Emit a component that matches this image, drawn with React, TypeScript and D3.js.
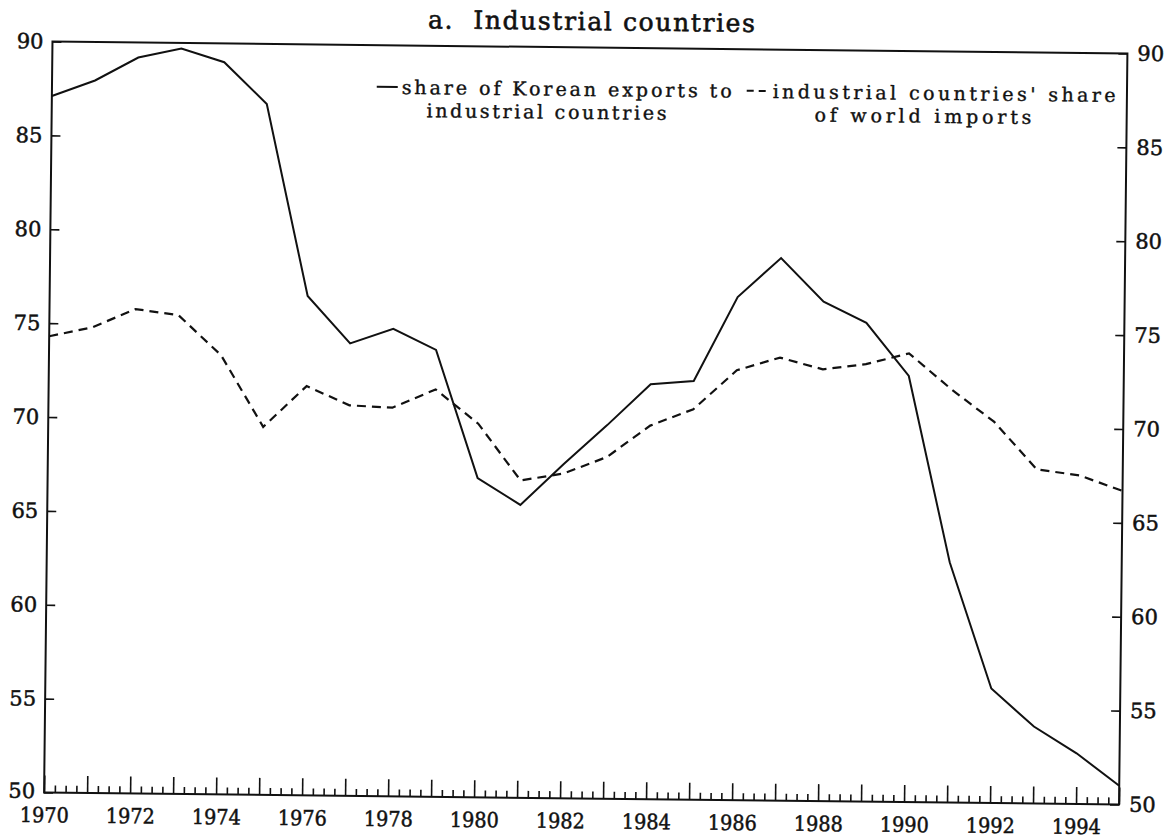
import React, { useEffect, useRef } from 'react';
import * as d3 from 'd3';

const years = [1970, 1971, 1972, 1973, 1974, 1975, 1976, 1977, 1978, 1979, 1980, 1981, 1982,
    1983, 1984, 1985, 1986, 1987, 1988, 1989, 1990, 1991, 1992, 1993, 1994, 1995];

// share of Korean exports to industrial countries (solid)
const koreanShare = [87.1, 87.95, 89.2, 89.7, 89.0, 86.8, 76.6, 74.1, 74.9, 73.8, 67.0, 65.6, 67.8,
    69.9, 72.1, 72.3, 76.8, 78.9, 76.6, 75.5, 72.7, 62.8, 56.1, 54.1, 52.7, 51.0];

// industrial countries' share of world imports (dashed)
const worldShare = [74.3, 74.8, 75.8, 75.5, 73.4, 69.6, 71.8, 70.8, 70.7, 71.7, 69.9, 66.9, 67.3,
    68.2, 69.9, 70.8, 72.9, 73.6, 73.0, 73.3, 73.9, 72.0, 70.3, 67.8, 67.5, 66.7];

const yTicks = [50, 55, 60, 65, 70, 75, 80, 85, 90];
const labelYears = [1970, 1972, 1974, 1976, 1978, 1980, 1982, 1984, 1986, 1988, 1990, 1992, 1994];

const title = 'a.\u00a0\u00a0Industrial countries';
const legendSolid = ['share of Korean exports to', 'industrial countries'];
const legendDashed = ["industrial countries' share", 'of world imports'];

const FONT = '"DejaVu Serif", "Liberation Serif", serif';
const INK = '#111';

const App = () => {
    const ref = useRef<SVGSVGElement>(null);

    useEffect(() => {
        const svg = d3.select(ref.current);
        svg.selectAll('*').remove();

        const width = 1171;
        const height = 838;
        const margin = { top: 47.5, right: 47.75, bottom: 39.5, left: 48.25 };

        // the scan is tilted a little, so the whole chart is turned by the same amount
        const g = svg.append('g').attr('transform', 'rotate(0.64 585.75 423)');

        const x = d3.scaleLinear()
            .domain([1970, 1995])
            .range([margin.left, width - margin.right]);

        const y = d3.scaleLinear()
            .domain([50, 90])
            .range([height - margin.bottom, margin.top]);

        const x0 = x.range()[0], x1 = x.range()[1];
        const y0 = y.range()[0], y1 = y.range()[1];

        const quarters: number[] = [];
        years.slice(0, -1).forEach(yr => { quarters.push(yr + 0.25, yr + 0.5, yr + 0.75); });

        const inkText = (s: any) => s.selectAll('text')
            .attr('fill', INK).attr('stroke', INK).attr('stroke-width', 0.5);

        // minor (quarterly) ticks
        g.append('g')
            .attr('transform', `translate(0,${y0})`)
            .call(d3.axisBottom(x).tickValues(quarters).tickSize(-7).tickFormat(() => ''))
            .call(s => s.select('.domain').remove())
            .selectAll('line').attr('stroke', INK).attr('stroke-width', 1.6);

        // year ticks with labels every second year
        g.append('g')
            .attr('transform', `translate(0,${y0})`)
            .call(d3.axisBottom(x).tickValues(years).tickSize(-17).tickPadding(15)
                .tickFormat(d => labelYears.includes(+d) ? String(d) : ''))
            .call(s => s.select('.domain').remove())
            .call(s => s.selectAll('line').attr('stroke', INK).attr('stroke-width', 1.6))
            .call(inkText)
            .call(s => s.selectAll('text').filter((d: any) => labelYears.includes(+d))
                .attr('textLength', 49).attr('lengthAdjust', 'spacingAndGlyphs'))
            .attr('font-family', FONT)
            .attr('font-size', 21);

        g.append('g')
            .attr('transform', `translate(${x0},0)`)
            .call(d3.axisLeft(y).tickValues(yTicks).tickSize(-9).tickPadding(9))
            .call(s => s.select('.domain').remove())
            .call(s => s.selectAll('line').attr('stroke', INK).attr('stroke-width', 1.6))
            .call(inkText)
            .call(s => s.selectAll('text').filter((d: any) => d === 50).attr('dy', '0.25em'))
            .attr('font-family', FONT)
            .attr('font-size', 21);

        g.append('g')
            .attr('transform', `translate(${x1},0)`)
            .call(d3.axisRight(y).tickValues(yTicks).tickSize(-9).tickPadding(10))
            .call(s => s.select('.domain').remove())
            .call(s => s.selectAll('line').attr('stroke', INK).attr('stroke-width', 1.6))
            .call(inkText)
            .attr('font-family', FONT)
            .attr('font-size', 21);

        // frame
        g.append('rect')
            .attr('x', x0).attr('y', y1)
            .attr('width', x1 - x0).attr('height', y0 - y1)
            .attr('fill', 'none')
            .attr('stroke', INK)
            .attr('stroke-width', 2);

        const line = d3.line<number>()
            .x((d, i) => x(years[i]))
            .y(d => y(d));

        g.append('path')
            .datum(koreanShare)
            .attr('d', line)
            .attr('fill', 'none')
            .attr('stroke', INK)
            .attr('stroke-width', 2);

        g.append('path')
            .datum(worldShare)
            .attr('d', line)
            .attr('fill', 'none')
            .attr('stroke', INK)
            .attr('stroke-width', 2.2)
            .attr('stroke-dasharray', '9,6');

        g.append('text')
            .attr('x', 587).attr('y', 30)
            .attr('text-anchor', 'middle')
            .attr('font-family', FONT)
            .attr('font-size', 25)
            .attr('fill', INK)
            .attr('stroke', INK)
            .attr('stroke-width', 0.6)
            .attr('textLength', 327)
            .text(title);

        // legend
        const leg = g.append('g')
            .attr('font-family', FONT)
            .attr('font-size', 19)
            .attr('fill', INK)
            .attr('stroke', INK)
            .attr('stroke-width', 0.4);

        leg.append('line')
            .attr('x1', 373).attr('x2', 394).attr('y1', 89).attr('y2', 89)
            .attr('stroke-width', 2);
        leg.append('text').attr('x', 398).attr('y', 96)
            .attr('textLength', 330).text(legendSolid[0]);
        leg.append('text').attr('x', 423).attr('y', 119)
            .attr('textLength', 240).text(legendSolid[1]);

        leg.append('line')
            .attr('x1', 743).attr('x2', 766).attr('y1', 89).attr('y2', 89)
            .attr('stroke-width', 2)
            .attr('stroke-dasharray', '7,5');
        leg.append('text').attr('x', 769).attr('y', 96)
            .attr('textLength', 343).text(legendDashed[0]);
        leg.append('text').attr('x', 811).attr('y', 119)
            .attr('textLength', 217).text(legendDashed[1]);
    }, []);

    return (
        <svg
            ref={ref}
            width={1171}
            height={838}
            style={{ position: 'absolute', left: 0, top: 0, background: '#fff' }}
        />
    );
};

export default App;
